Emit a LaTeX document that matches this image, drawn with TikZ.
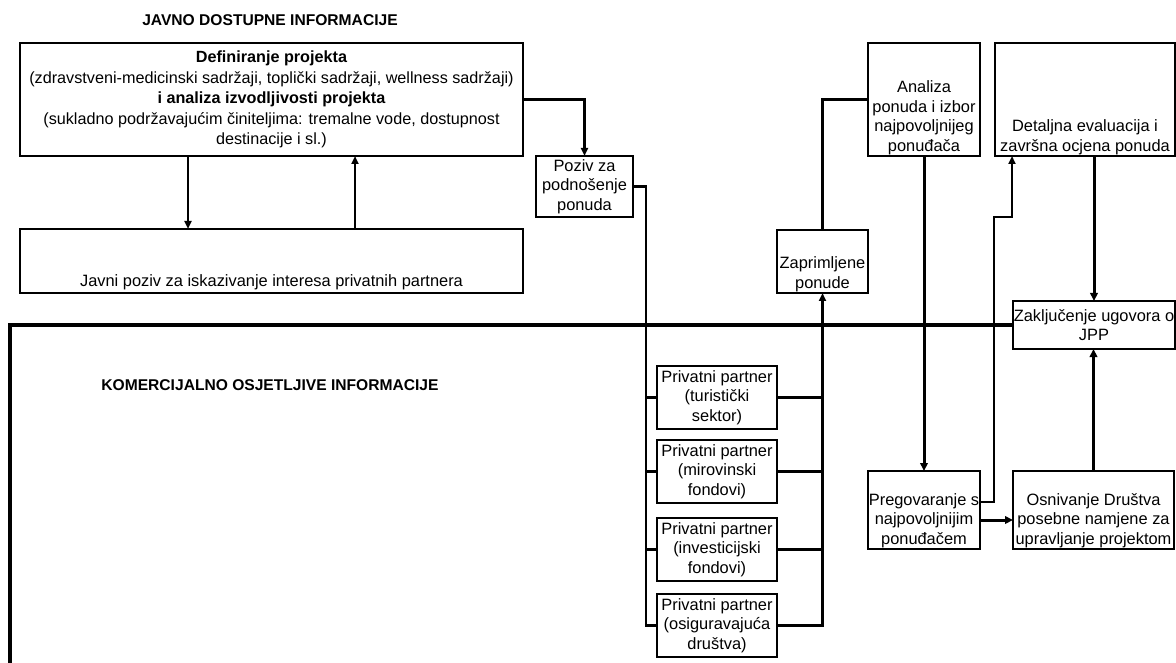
\documentclass[tikz,border=0pt]{standalone}
\usepackage{fontspec}
\setmainfont{Liberation Sans}
\usepackage{tikz}
\usetikzlibrary{arrows.meta}

\newcommand{\boxfont}{\fontsize{16.4}{19.5}\selectfont}
\newcommand{\deffont}{\fontsize{16.2}{20.5}\selectfont}
\newcommand{\titlefont}{\fontsize{15.6}{18}\selectfont\bfseries}

\tikzset{
  blok/.style={draw, line width=2.4pt, inner sep=1pt, outer sep=0pt, align=center, font=\boxfont},
  txt/.style={anchor=south, align=center, inner sep=1.2pt, font=\boxfont},
  veza/.style={line width=2.2pt},
  strel/.style={line width=2.2pt, -{Triangle[length=8pt,width=7pt]}},
  debela/.style={line width=3pt, -{Triangle[length=8pt,width=7.5pt]}},
  okvir/.style={line width=3.2pt},
}

\begin{document}
\begin{tikzpicture}[x=1pt,y=-1pt]
  % Set the page size
  \useasboundingbox (0,0) rectangle (1176,663);

  % Titles of the two zones
  \node[font=\titlefont] (javno) at (270,20) {JAVNO DOSTUPNE INFORMACIJE};
  \node[font=\titlefont] (komerc) at (270,385) {KOMERCIJALNO OSJETLJIVE INFORMACIJE};

  % Public part
  \node[blok, font=\deffont, minimum width=503pt, minimum height=113pt] (def) at (271.5,99.5)
    {\textbf{Definiranje projekta}\\
     (zdravstveni-medicinski sadržaji, toplički sadržaji, wellness sadržaji)\\
     \textbf{i analiza izvodljivosti projekta}\\
     (sukladno podržavajućim činiteljima: tremalne vode, dostupnost\\
     destinacije i sl.)};
  \node[blok, minimum width=503pt, minimum height=64pt,
    label={[txt, inner sep=2.5pt]south:Javni poziv za iskazivanje interesa privatnih partnera}] (javni) at (271.5,261) {};
  \node[blok, minimum width=97pt, minimum height=61pt] (poziv) at (584.5,186.5)
    {Poziv za\\podnošenje\\ponuda};
  \node[blok, minimum width=91pt, minimum height=63pt,
    label={[txt]south:{Zaprimljene\\ponude}}] (zapr) at (822.5,261.5) {};
  \node[blok, minimum width=112pt, minimum height=113pt,
    label={[txt]south:{Analiza\\ponuda i izbor\\najpovoljnijeg\\ponuđača}}] (analiza) at (924,99.5) {};
  \node[blok, minimum width=180pt, minimum height=113pt,
    label={[txt]south:{Detaljna evaluacija i\\završna ocjena ponuda}}] (detalj) at (1085,99.5) {};
  \node[blok, minimum width=162pt, minimum height=48pt] (zaklj) at (1094,325)
    {Zaključenje ugovora o\\JPP};

  % Private partners
  \node[blok, minimum width=120pt, minimum height=63pt] (priv1) at (717,397.5)
    {Privatni partner\\(turistički\\sektor)};
  \node[blok, minimum width=120pt, minimum height=63pt] (priv2) at (717,471.5)
    {Privatni partner\\(mirovinski\\fondovi)};
  \node[blok, minimum width=120pt, minimum height=63pt] (priv3) at (717,549.5)
    {Privatni partner\\(investicijski\\fondovi)};
  \node[blok, minimum width=120pt, minimum height=63pt] (priv4) at (717,625.5)
    {Privatni partner\\(osiguravajuća\\društva)};

  % Negotiation and company
  \node[blok, minimum width=112pt, minimum height=78pt,
    label={[txt]south:{Pregovaranje s\\najpovoljnijim\\ponuđačem}}] (pregov) at (924,510) {};
  \node[blok, minimum width=161pt, minimum height=78pt,
    label={[txt]south:{Osnivanje Društva\\posebne namjene za\\upravljanje projektom}}] (osniv) at (1093.5,510) {};

  % Frame of the commercial zone
  \draw[okvir] (zaklj.west) -- (10,325) -- (10,670);

  % Arrows between the public boxes
  \draw[strel] ([xshift=-83.5pt]def.south) -- ([xshift=-83.5pt]javni.north);
  \draw[strel] ([xshift=83.5pt]javni.north) -- ([xshift=83.5pt]def.south);
  \draw[strel] (def.east) -| (poziv.north);

  % Bus to the private partners
  \coordinate (busL) at ([xshift=13pt]poziv.east);
  \draw[veza] (poziv.east) -- (busL) |- (priv4.west);
  \draw[veza] (busL) |- (priv1.west);
  \draw[veza] (busL) |- (priv2.west);
  \draw[veza] (busL) |- (priv3.west);

  % Bus to the received offers
  \draw[strel] (priv4.east) -| (zapr.south);
  \draw[veza] (priv1.east) -- (priv1.east -| zapr.south);
  \draw[veza] (priv2.east) -- (priv2.east -| zapr.south);
  \draw[veza] (priv3.east) -- (priv3.east -| zapr.south);

  % Evaluation path
  \draw[veza] (zapr.north) |- (analiza.west);
  \draw[debela] (analiza.south) -- (pregov.north);
  \draw[debela] ([yshift=-10pt]pregov.east) -- ([yshift=-10pt]osniv.west);
  \draw[strel] ([yshift=8pt]pregov.east) -- ++(14,0) -- ++(0,-285)
    -| ([xshift=17pt]detalj.south west);
  \draw[debela] (detalj.south -| zaklj.north) -- (zaklj.north);
  \draw[debela] (osniv.north) -- (osniv.north |- zaklj.south);

\end{tikzpicture}
\end{document}
